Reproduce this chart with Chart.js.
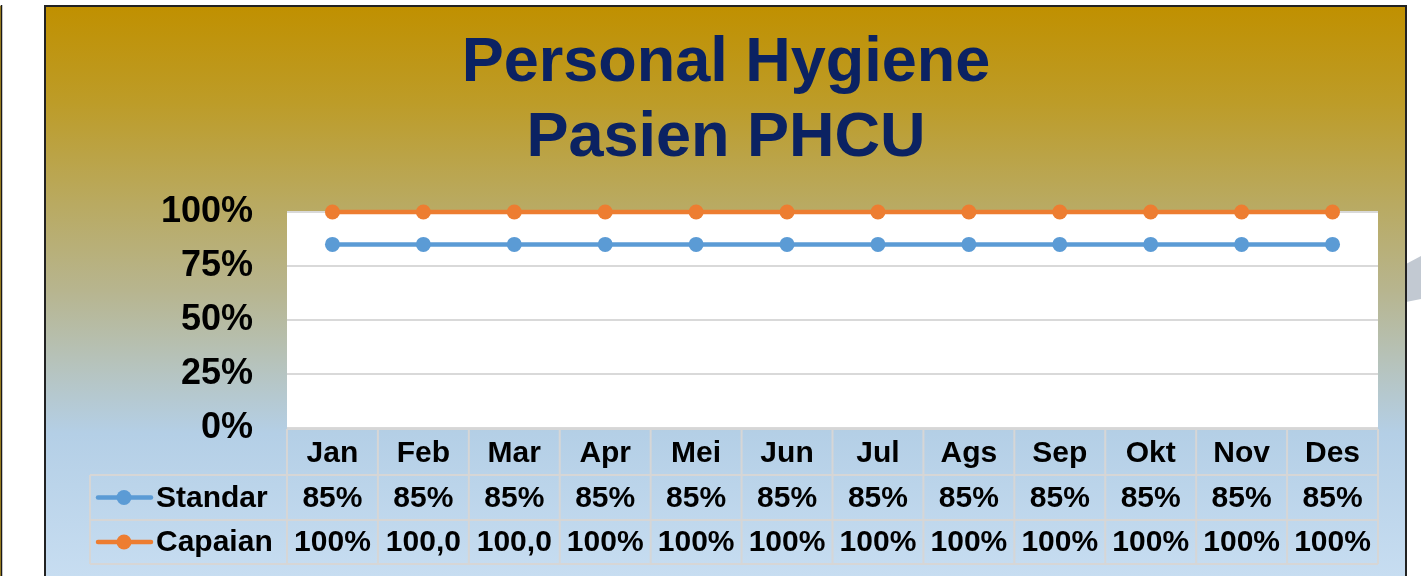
<!DOCTYPE html>
<html>
<head>
<meta charset="utf-8">
<script src="https://cdn.jsdelivr.net/npm/chart.js@4.4.1/dist/chart.umd.min.js"></script>
<style>
  html, body { margin: 0; padding: 0; background: #ffffff; overflow: hidden; }
  canvas { display: block; }
</style>
</head>
<body>
<canvas id="c" width="1421" height="576"></canvas>
<script>
// ---- data ----
const categories = ['Jan', 'Feb', 'Mar', 'Apr', 'Mei', 'Jun', 'Jul', 'Ags', 'Sep', 'Okt', 'Nov', 'Des'];
const standar = [85, 85, 85, 85, 85, 85, 85, 85, 85, 85, 85, 85];
const capaian = [100, 100, 100, 100, 100, 100, 100, 100, 100, 100, 100, 100];
const standarLabels = ['85%', '85%', '85%', '85%', '85%', '85%', '85%', '85%', '85%', '85%', '85%', '85%'];
const capaianLabels = ['100%', '100,0', '100,0', '100%', '100%', '100%', '100%', '100%', '100%', '100%', '100%', '100%'];
const seriesNames = ['Standar', 'Capaian'];
const titleLines = ['Personal Hygiene', 'Pasien PHCU'];
const yTickValues = [0, 25, 50, 75, 100];

const FONT = "'Liberation Sans', Arial, Helvetica, sans-serif";
const BLUE = '#5B9BD5';
const ORANGE = '#ED7D31';

const backgroundPlugin = {
  id: 'bg',
  beforeDraw(chart) {
    const ctx = chart.ctx;
    const W = chart.width, H = chart.height;
    ctx.save();
    ctx.fillStyle = '#ffffff';
    ctx.fillRect(0, 0, W, H);
    // edge of neighbouring frame on the left
    ctx.fillStyle = '#BF9A20';
    ctx.fillRect(0, 6, 1, H - 6);
    ctx.strokeStyle = '#1a1a1a';
    ctx.lineWidth = 1.5;
    ctx.beginPath();
    ctx.moveTo(1.5, 5);
    ctx.lineTo(1.5, H);
    ctx.stroke();
    // gray shape at right edge
    ctx.fillStyle = '#C2C9D2';
    ctx.beginPath();
    ctx.moveTo(1406, 264);
    ctx.lineTo(1421, 256);
    ctx.lineTo(1421, 299);
    ctx.lineTo(1406, 302);
    ctx.closePath();
    ctx.fill();
    // frame with gradient
    const g = ctx.createLinearGradient(0, 6, 0, H);
    g.addColorStop(0, '#C09000');
    g.addColorStop(0.17, '#BD9C28');
    g.addColorStop(0.35, '#B9AA62');
    g.addColorStop(0.5, '#B7B58F');
    g.addColorStop(0.62, '#B6C2B9');
    g.addColorStop(0.75, '#B4CFE6');
    g.addColorStop(1, '#C7DDF1');
    ctx.fillStyle = g;
    ctx.fillRect(45, 6, 1361, H);
    ctx.strokeStyle = '#222222';
    ctx.lineWidth = 2;
    ctx.strokeRect(45, 6, 1361, H + 20);
    // plot area
    const a = chart.chartArea;
    ctx.fillStyle = '#ffffff';
    ctx.fillRect(a.left, a.top - 1, a.right - a.left, a.bottom - a.top + 1);
    ctx.restore();
  }
};

const tablePlugin = {
  id: 'dataTable',
  afterDraw(chart) {
    const ctx = chart.ctx;
    const x = chart.scales.x;
    const a = chart.chartArea;
    const colW = (a.right - a.left) / categories.length;
    const top = a.bottom + 1;
    const rowH = [46, 45, 44];
    const r1 = top + rowH[0];
    const r2 = r1 + rowH[1];
    const r3 = r2 + rowH[2];
    const legendLeft = 90;
    ctx.save();
    ctx.strokeStyle = '#D6D6D6';
    ctx.lineWidth = 2;
    ctx.beginPath();
    ctx.moveTo(a.left, top); ctx.lineTo(a.right, top);
    [r1, r2, r3].forEach(y => { ctx.moveTo(legendLeft, y); ctx.lineTo(a.right, y); });
    ctx.moveTo(legendLeft, r1); ctx.lineTo(legendLeft, r3);
    for (let i = 0; i <= categories.length; i++) {
      const px = a.left + i * colW;
      ctx.moveTo(px, top); ctx.lineTo(px, r3);
    }
    ctx.stroke();

    ctx.font = 'bold 30px ' + FONT;
    ctx.fillStyle = '#000000';
    ctx.textBaseline = 'middle';
    const rows = [
      { y: (r1 + r2) / 2, labels: standarLabels, color: BLUE, name: seriesNames[0] },
      { y: (r2 + r3) / 2, labels: capaianLabels, color: ORANGE, name: seriesNames[1] }
    ];
    rows.forEach(row => {
      // legend key
      ctx.strokeStyle = row.color;
      ctx.lineWidth = 4.5;
      ctx.lineCap = 'round';
      ctx.beginPath();
      ctx.moveTo(98, row.y); ctx.lineTo(151, row.y);
      ctx.stroke();
      ctx.fillStyle = row.color;
      ctx.beginPath();
      ctx.arc(124, row.y, 7.5, 0, Math.PI * 2);
      ctx.fill();
      ctx.fillStyle = '#000000';
      ctx.textAlign = 'left';
      ctx.fillText(row.name, 156, row.y + 1);
      ctx.textAlign = 'center';
      row.labels.forEach((t, i) => {
        ctx.fillText(t, x.getPixelForValue(i), row.y + 1);
      });
    });
    ctx.restore();
  }
};

new Chart(document.getElementById('c'), {
  type: 'line',
  data: {
    labels: categories,
    datasets: [
      {
        label: seriesNames[0],
        data: standar,
        borderColor: BLUE,
        backgroundColor: BLUE,
        borderWidth: 4.5,
        pointRadius: 7.5,
        pointBorderWidth: 0,
        pointBackgroundColor: BLUE,
        tension: 0,
        clip: false
      },
      {
        label: seriesNames[1],
        data: capaian,
        borderColor: ORANGE,
        backgroundColor: ORANGE,
        borderWidth: 4.5,
        pointRadius: 7.5,
        pointBorderWidth: 0,
        pointBackgroundColor: ORANGE,
        tension: 0,
        clip: false
      }
    ]
  },
  options: {
    responsive: false,
    animation: false,
    devicePixelRatio: 1,
    layout: { padding: { left: 74, right: 43, top: 0, bottom: 0 } },
    plugins: {
      legend: { display: false },
      tooltip: { enabled: false },
      title: {
        display: true,
        text: titleLines,
        color: '#0B2262',
        font: { family: FONT, size: 63, weight: 'bold', lineHeight: '75px' },
        padding: { top: 26.5, bottom: 35.5 }
      }
    },
    scales: {
      x: {
        offset: true,
        grid: { display: false, drawTicks: false },
        border: { display: false },
        ticks: { color: '#000000', font: { family: FONT, size: 30, weight: 'bold' }, padding: 8, maxRotation: 0, autoSkip: false },
        afterFit(scale) { scale.height = 148; }
      },
      y: {
        min: 0,
        max: 100,
        afterBuildTicks(scale) { scale.ticks = yTickValues.map(v => ({ value: v })); },
        grid: { color: '#D9D9D9', lineWidth: 2, drawTicks: false },
        border: { display: false },
        ticks: {
          color: '#000000',
          font: { family: FONT, size: 36, weight: 'bold' },
          padding: 34,
          callback: v => v + '%'
        },
        afterFit(scale) { scale.width = 213; }
      }
    }
  },
  plugins: [backgroundPlugin, tablePlugin]
});
</script>
</body>
</html>
